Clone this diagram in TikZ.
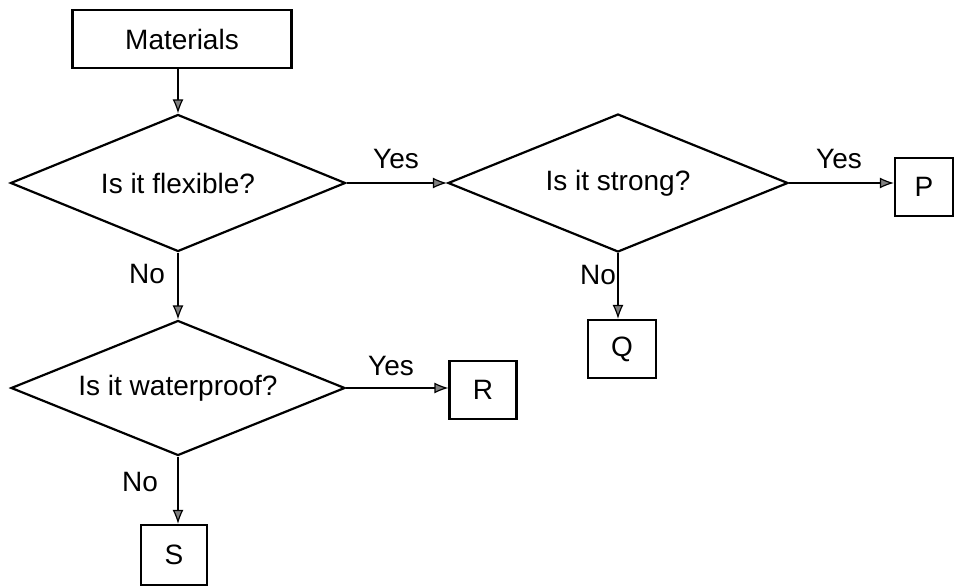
\documentclass[tikz,border=0pt]{standalone}
\usepackage{fontspec}
\setmainfont{Liberation Sans}
\usetikzlibrary{shapes.geometric,arrows.meta}
\begin{document}
\begin{tikzpicture}[x=1pt,y=-1pt,
  txt/.style={font=\fontsize{28}{32}\selectfont},
  box/.style={draw, line width=2.2pt, inner sep=0pt, txt},
  dec/.style={draw, diamond, line width=2.2pt, inner sep=0pt, shape aspect=2.45, txt},
  lbl/.style={inner sep=0pt, txt},
  arr/.style={line width=2.2pt, -{Latex[length=14pt,width=11pt,fill=gray,line width=1.2pt]}}]
\useasboundingbox (0,0) rectangle (954,586);
\node[box, minimum width=219pt, minimum height=58pt] (mat) at (182,39) {Materials};
\node[dec, minimum width=335pt, minimum height=137pt] (d1) at (178,183) {Is it flexible?};
\node[dec, minimum width=340pt, minimum height=138pt] (d2) at (618,183) {Is it strong?};
\node[dec, minimum width=334pt, minimum height=135pt] (d3) at (178,388) {Is it waterproof?};
\node[box, minimum width=58pt, minimum height=58pt] (p) at (924,187) {P};
\node[box, minimum width=68pt, minimum height=58pt] (q) at (622,349) {Q};
\node[box, minimum width=67pt, minimum height=58pt] (r) at (483,390) {R};
\node[box, minimum width=66pt, minimum height=60pt] (s) at (174,555) {S};
\draw[arr] (d1.north |- mat.south) -- (d1.north);
\draw[arr] (d1.east) -- (d2.west);
\draw[arr] (d2.east) -- (p.west |- d2.east);
\draw[arr] (d2.south) -- (d2.south |- q.north);
\draw[arr] (d1.south) -- (d3.north);
\draw[arr] (d3.east) -- (r.west |- d3.east);
\draw[arr] (d3.south) -- (d3.south |- s.north);
\node[lbl] (y1) at (396,159) {Yes};
\node[lbl] (y2) at (839,159) {Yes};
\node[lbl] (y3) at (391,366) {Yes};
\node[lbl] (n1) at (147,274) {No};
\node[lbl] (n2) at (598,275) {No};
\node[lbl] (n3) at (140,482) {No};
\end{tikzpicture}
\end{document}
